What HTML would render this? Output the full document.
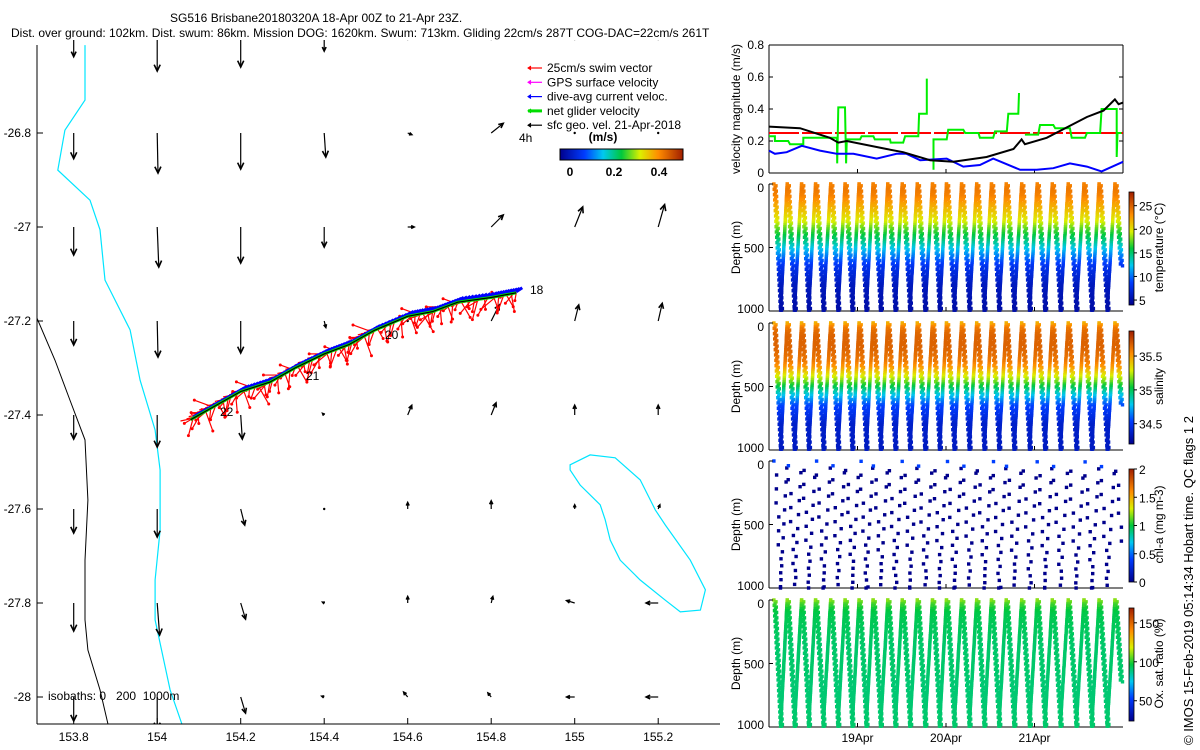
<!DOCTYPE html>
<html><head><meta charset="utf-8">
<style>
html,body{margin:0;padding:0;background:#fff;}
svg{display:block;font-family:"Liberation Sans",sans-serif;}
text{font-size:12px;fill:#000;}
</style></head>
<body>
<svg id="fig" width="1200" height="750" viewBox="0 0 1200 750" xmlns="http://www.w3.org/2000/svg">
<defs>
<clipPath id="mapclip"><rect x="37" y="40" width="683" height="684"/></clipPath>
<linearGradient id="jetH" x1="0" x2="1" y1="0" y2="0">
<stop offset="0" stop-color="#00008c"/><stop offset="0.2" stop-color="#003cff"/><stop offset="0.35" stop-color="#00c8f0"/><stop offset="0.5" stop-color="#00c83c"/><stop offset="0.65" stop-color="#dcf000"/><stop offset="0.8" stop-color="#ff8c00"/><stop offset="1" stop-color="#a01e00"/>
</linearGradient>
<linearGradient id="jetV" x1="0" x2="0" y1="1" y2="0">
<stop offset="0" stop-color="#00008c"/><stop offset="0.2" stop-color="#003cff"/><stop offset="0.35" stop-color="#00c8f0"/><stop offset="0.5" stop-color="#00c83c"/><stop offset="0.65" stop-color="#dcf000"/><stop offset="0.8" stop-color="#ff8c00"/><stop offset="1" stop-color="#a01e00"/>
</linearGradient>
</defs>
<text x="170" y="22">SG516 Brisbane20180320A 18-Apr 00Z to 21-Apr 23Z.</text>
<text x="11" y="37">Dist. over ground: 102km. Dist. swum: 86km. Mission DOG: 1620km. Swum: 713km. Gliding 22cm/s 287T COG-DAC=22cm/s 261T</text>
<g id="map"></g>
<g id="right"></g>
<text transform="translate(1193,745) rotate(-90)" style="font-size:13px">© IMOS 15-Feb-2019 05:14:34 Hobart time. QC flags 1  2</text>
</svg>
<script>
// ---------- data ----------
const lonTicks=[153.8,154,154.2,154.4,154.6,154.8,155,155.2];
const latTicks=[-26.8,-27,-27.2,-27.4,-27.6,-27.8,-28];
const gridLats=[-26.6,-26.8,-27,-27.2,-27.4,-27.6,-27.8,-28];
const gridU=[[0,0,0,0,0,0,0,0],[0,0.01,0,0.02,0.05,0.15,0,0],[0,0.02,0,0,0.08,0.15,0.1,0.08],[0,0.01,0,0.02,0,0.1,0.05,0.05],[0,0,0.02,-0.02,0.05,0.06,0,0],[0,0,0.05,0,0,0,0,0.02],[0,0.03,0.06,-0.02,0,0.02,-0.1,-0.15],[0,0,0.06,-0.03,-0.05,-0.04,-0.1,-0.15]];
const gridV=[[-0.22,-0.4,-0.35,-0.15,0,0,0,0],[-0.32,-0.5,-0.45,-0.3,-0.02,0.12,0,0],[-0.35,-0.5,-0.45,-0.25,0,0.15,0.25,0.28],[-0.3,-0.45,-0.4,-0.08,0,0.2,0.2,0.22],[-0.3,-0.4,-0.3,0.02,0.12,0.15,0.12,0.12],[-0.3,-0.35,-0.2,0,0.08,0.1,0.05,0.05],[-0.35,-0.4,-0.2,0.01,0.08,0.08,0.03,0],[-0.3,-0.4,-0.2,0.01,0.06,0.05,0,0]];
const trackLon=[154.86,154.8,154.72,154.66,154.6,154.52,154.46,154.4,154.33,154.27,154.2,154.14,154.08];
const trackLat=[-27.14,-27.15,-27.16,-27.18,-27.19,-27.22,-27.25,-27.27,-27.3,-27.33,-27.35,-27.38,-27.41];
const isoCyanLon=[153.827,153.827,153.779,153.762,153.839,153.863,153.875,153.935,153.959,153.995,154.007,154.007,153.995,153.995,154.031,154.059];
const isoCyanLat=[-26.613,-26.730,-26.794,-26.879,-26.943,-27.006,-27.113,-27.219,-27.326,-27.432,-27.517,-27.645,-27.751,-27.836,-27.985,-28.057];
const iso0Lon=[153.712,153.755,153.791,153.827,153.834,153.827,153.827,153.834,153.863,153.882];
const iso0Lat=[-27.194,-27.283,-27.368,-27.453,-27.581,-27.709,-27.836,-27.900,-27.985,-28.057];
const islandLon=[154.989,155.037,155.097,155.157,155.193,155.217,155.277,155.313,155.301,155.253,155.217,155.157,155.109,155.085,155.073,155.061,155.013,154.989];
const islandLat=[-27.506,-27.485,-27.491,-27.538,-27.602,-27.634,-27.709,-27.772,-27.815,-27.819,-27.794,-27.751,-27.709,-27.666,-27.623,-27.591,-27.549,-27.517];

const blackH=[0,8.4,16.5,18.8,21.1,31.9,36.4,43.7,50.0,59.0,66.3,68.5,69.4,75.3,86.2,90.7,93.8,94.8,96];
const blackV=[0.29,0.28,0.22,0.19,0.20,0.15,0.13,0.08,0.07,0.10,0.15,0.21,0.18,0.22,0.35,0.39,0.46,0.43,0.44];
const blueH=[0,1.6,4.8,8.9,13.8,18.4,22.9,29.2,34.6,37.3,41.0,48.2,52.7,57.2,60.8,68.1,72.6,77.1,81.6,86.2,90.2,96];
const blueV=[0.14,0.12,0.13,0.17,0.14,0.12,0.12,0.09,0.12,0.12,0.08,0.09,0.04,0.05,0.09,0.02,0.02,0.03,0.06,0.04,0.01,0.07];
const greenH=[0,1.6,1.6,5.2,5.7,9.3,9.3,18.4,18.5,18.8,20.6,20.9,21.1,24.7,25.1,28.3,28.7,32.8,33.0,36.4,36.9,40.5,40.7,42.8,42.8,null,44.6,44.6,48.2,48.6,52.7,53.2,56.8,57.2,60.8,61.3,64.5,64.9,67.6,67.8,null,69.4,73.0,73.5,77.1,77.6,81.6,82.1,85.7,86.2,89.8,90.2,92.5,94.3,94.3,94.5,95.6];
const greenV=[0.23,0.23,0.20,0.20,0.18,0.18,0.22,0.22,0.06,0.41,0.41,0.06,0.21,0.21,0.23,0.23,0.21,0.21,0.19,0.19,0.23,0.23,0.37,0.37,0.59,null,0.02,0.21,0.21,0.27,0.27,0.25,0.25,0.22,0.22,0.26,0.26,0.37,0.37,0.50,null,0.24,0.24,0.30,0.30,0.28,0.28,0.22,0.22,0.25,0.25,0.40,0.40,0.40,0.10,0.25,0.25];

const surfaceH=[1.6,5.2,9.1,12.9,17.0,20.9,24.7,28.5,32.5,36.4,40.5,44.6,48.4,52.5,56.6,60.6,64.6,68.8,73.0,77.1,81.4,85.7,89.8,94.1,97.6];
const maxDepth=[1000,1000,1000,1000,1000,1000,1000,1000,1000,1000,1000,1000,1000,1000,1000,1000,1000,1000,1000,1000,1000,1000,1000,650];
const profDepth=[0,50,100,200,300,350,450,550,650,800,1000];
const profTemp=[23.5,24,23.5,21.5,19.5,17.5,14.5,11,8,6,5];
const profSal=[35.45,35.62,35.66,35.66,35.6,35.5,35.2,34.85,34.55,34.38,34.35];
const profOxy=[110,100,95,93,92,91,91,91,90,90,91];
const dayTicks=[24,48,72];
const dayLabels=['19Apr','20Apr','21Apr'];

// ---------- helpers ----------
const NS='http://www.w3.org/2000/svg';
function el(tag,attrs,parent){const e=document.createElementNS(NS,tag);for(const k in attrs)e.setAttribute(k,attrs[k]);parent.appendChild(e);return e;}
const cmPos=[0,0.2,0.35,0.5,0.65,0.8,1];
const cmCol=[[0,0,140],[0,60,255],[0,200,240],[0,200,60],[220,240,0],[255,140,0],[160,30,0]];
function jet(t){t=Math.max(0,Math.min(1,t));let i=1;while(i<cmPos.length-1&&t>cmPos[i])i++;const f=(t-cmPos[i-1])/(cmPos[i]-cmPos[i-1]);const a=cmCol[i-1],b=cmCol[i];return `rgb(${Math.round(a[0]+f*(b[0]-a[0]))},${Math.round(a[1]+f*(b[1]-a[1]))},${Math.round(a[2]+f*(b[2]-a[2]))})`;}
function interp(xs,ys,x){if(x<=xs[0])return ys[0];for(let i=1;i<xs.length;i++){if(x<=xs[i]){const f=(x-xs[i-1])/(xs[i]-xs[i-1]);return ys[i-1]+f*(ys[i]-ys[i-1]);}}return ys[ys.length-1];}
const X=lon=>73.7+(lon-153.8)*417.5;
const Y=lat=>697-(lat+28)*470;

// ---------- map ----------
const map=document.getElementById('map');
const mg=el('g',{'clip-path':'url(#mapclip)'},map);
function poly(lons,lats,stroke,w,close,parent,name){
  let d=lons.map((l,i)=>(i?'L':'M')+X(l).toFixed(1)+','+Y(lats[i]).toFixed(1)).join('')+(close?'Z':'');
  const p=el('path',{d:d,fill:'none',stroke:stroke,'stroke-width':w},parent);
  
  
}
poly(isoCyanLon,isoCyanLat,'#00e5ff',1.2,false,mg,'isobath-200m');
poly(iso0Lon,iso0Lat,'#000',1,false,mg,'isobath-0m');
poly(islandLon,islandLat,'#00e5ff',1.2,true,mg,'isobath-island');
const SC=80;
for(let r=0;r<gridLats.length;r++)for(let c=0;c<lonTicks.length;c++){
  const u=gridU[r][c],v=gridV[r][c];
  const x0=X(lonTicks[c]),y0=Y(gridLats[r]);
  const x1=x0+u*SC,y1=y0-v*SC;
  const g=el('g',{},mg);
  
  
  el('line',{x1:x0,y1:y0,x2:x1,y2:y1,stroke:'#000','stroke-width':1.2},g);
  const L=Math.hypot(x1-x0,y1-y0);
  if(L>1){const a=Math.atan2(y1-y0,x1-x0),h=Math.min(7,2+L*0.2);
    const p1=[x1-h*Math.cos(a-0.45),y1-h*Math.sin(a-0.45)],p2=[x1-h*Math.cos(a+0.45),y1-h*Math.sin(a+0.45)];
    el('path',{d:`M${p1}L${x1},${y1}L${p2}`,fill:'none',stroke:'#000','stroke-width':1.6},g);}
  else el('circle',{cx:x1,cy:y1,r:1.2,fill:'#000'},g);
}
const tg=el('g',{},mg);


const angs=[100,130,80,160,60,110,200,95,140,70,180,120,85,150,105];
for(let i=0;i<trackLon.length-1;i++){
  for(let k=0;k<10;k++){
    const f=k/10,lon=trackLon[i]+f*(trackLon[i+1]-trackLon[i]),lat=trackLat[i]+f*(trackLat[i+1]-trackLat[i]);
    const x=X(lon),y=Y(lat);
    el('line',{x1:x,y1:y-1,x2:x+6,y2:y-5,stroke:'#0000ff','stroke-width':3},tg);
    const a=angs[(i*10+k)%angs.length]*Math.PI/180,L=8+((i*7+k*5)%14);
    const ex=x+L*Math.cos(a),ey=y+L*Math.sin(a);
    el('line',{x1:x,y1:y,x2:ex,y2:ey,stroke:'#ff0000','stroke-width':1.2},tg);
    el('circle',{cx:ex,cy:ey,r:1.5,fill:'#ff0000'},tg);
    el('line',{x1:x,y1:y,x2:x-L*0.7,y2:y+L*0.15,stroke:'#ff0000','stroke-width':1.2},tg);
  }
}
poly(trackLon,trackLat,'#00dd00',3,false,tg,'net-velocity-track');
poly(trackLon,trackLat,'#000',1.2,false,tg,'gps-track-line');
[['18',530,294],['22',220,416],['20',385,339],['21',306,380]].forEach(t=>{const e=el('text',{x:t[1],y:t[2]},map);e.textContent=t[0];});
el('line',{x1:37,y1:45,x2:37,y2:724,stroke:'#000'},map);
el('line',{x1:37,y1:724,x2:720,y2:724,stroke:'#000'},map);
lonTicks.forEach(l=>{const x=X(l);el('line',{x1:x,y1:724,x2:x,y2:718,stroke:'#000'},map);const t=el('text',{x:x,y:741,'text-anchor':'middle'},map);t.textContent=String(l);});
latTicks.forEach(l=>{const y=Y(l);el('line',{x1:37,y1:y,x2:43,y2:y,stroke:'#000'},map);const t=el('text',{x:31,y:y+4,'text-anchor':'end'},map);t.textContent=String(l);});
const iso=el('text',{x:48,y:700},map);iso.textContent='isobaths: 0   200  1000m';iso.style.whiteSpace='pre';
const leg=el('g',{},map);
[['25cm/s swim vector','#ff0000'],['GPS surface velocity','#ff00ff'],['dive-avg current veloc.','#0000ff'],['net glider velocity','#00dd00'],['sfc geo. vel. 21-Apr-2018','#000']].forEach((it,i)=>{
  const y=68+i*14.3;
  const g=el('g',{},leg);
  el('line',{x1:528,y1:y,x2:542,y2:y,stroke:it[1],'stroke-width':i==3?3:1.2},g);
  el('path',{d:`M531,${y-2}L528,${y}L531,${y+2}`,fill:it[1],stroke:it[1]},g);
  const t=el('text',{x:547,y:y+4},g);t.textContent=it[0];
});
const t4=el('text',{x:519,y:142},map);t4.textContent='4h';
const ms=el('text',{x:603,y:141,'font-weight':'bold','text-anchor':'middle'},map);ms.textContent='(m/s)';
const cb=el('rect',{x:560,y:149,width:123,height:11,fill:'url(#jetH)',stroke:'#000'},map);
[['0',570],['0.2',614],['0.4',659]].forEach(t=>{const e=el('text',{x:t[1],y:176,'text-anchor':'middle','font-weight':'bold'},map);e.textContent=t[0];});

// ---------- right panels ----------
const R=document.getElementById('right');
const PX0=769,PX1=1123;
const T=h=>PX0+h*(PX1-PX0)/96;
function frame(top,bot,name){
  const g=el('g',{},R);
  el('line',{x1:PX0,y1:top,x2:PX0,y2:bot,stroke:'#000'},g);
  el('line',{x1:PX0,y1:bot,x2:PX1,y2:bot,stroke:'#000'},g);
  dayTicks.forEach(h=>el('line',{x1:T(h),y1:bot,x2:T(h),y2:bot-4,stroke:'#000'},g));
  return g;
}
const vTop=45,vBot=173;const VY=v=>vBot-v*(vBot-vTop)/0.8;
const vg=frame(vTop,vBot,'velocity-panel');
el('line',{x1:PX1,y1:vTop,x2:PX1,y2:vBot,stroke:'#000'},vg);
el('line',{x1:PX0,y1:vTop,x2:PX1,y2:vTop,stroke:'#000'},vg);
[0,0.2,0.4,0.6,0.8].forEach(v=>{el('line',{x1:PX0,y1:VY(v),x2:PX0+4,y2:VY(v),stroke:'#000'},vg);el('line',{x1:PX1,y1:VY(v),x2:PX1-4,y2:VY(v),stroke:'#000'},vg);const t=el('text',{x:764,y:VY(v)+4,'text-anchor':'end','font-size':13},vg);t.textContent=String(v);});
const vl=el('text',{transform:'translate(740,109) rotate(-90)','text-anchor':'middle'},vg);vl.textContent='velocity magnitude (m/s)';
const ref=el('line',{x1:PX0,y1:VY(0.25),x2:PX1,y2:VY(0.25),stroke:'#ff0000','stroke-width':2,'stroke-dasharray':'30 3'},vg);

function series(hs,vs,col,name){let d='',pen=false;hs.forEach((h,i)=>{if(h===null){pen=false;return;}d+=(pen?'L':'M')+T(h).toFixed(1)+','+VY(vs[i]).toFixed(1);pen=true;});const p=el('path',{d:d,fill:'none',stroke:col,'stroke-width':2},vg);}
series(greenH,greenV,'#00ee00','net-velocity-series');
series(blueH,blueV,'#0000ff','dive-avg-current-series');
series(blackH,blackV,'#000','surface-geo-velocity-series');

function depthPanel(top,bot,name,prof,vmin,vmax,ticks,label,step,showDates){
  const g=frame(top,bot,name);
  const DY=d=>top+d*(bot-top)/1000;
  let s='';
  for(let i=0;i<surfaceH.length-1;i++){
    const t0=surfaceH[i],t2=surfaceH[i+1],tb=(t0+t2)/2,md=maxDepth[i];
    const tEnd= md<1000 ? t0+1.5 : tb;
    const off=prof===null?((i*37)%step):0;
    for(let d=off;d<=md;d+=step){
      const v=prof===null?null:interp(profDepth,prof,d);
      const col=prof===null?(d<60?'#0040ff':'#00008c'):jet((v-vmin)/(vmax-vmin));
      const x1=T(t0+(tEnd-t0)*d/md)+((d*7)%3)-1;
      s+=`<rect x="${(x1-1.7).toFixed(1)}" y="${(DY(d)-1.7).toFixed(1)}" width="3.4" height="3.4" fill="${col}"/>`;
      if(md>=1000){const d2=prof===null?Math.min(1000,d+step/2):d;
      const col2=prof===null?'#00008c':col;
      const x2=T(t2-(t2-tb)*d2/md)+((d*3)%3)-1;
      s+=`<rect x="${(x2-1.7).toFixed(1)}" y="${(DY(d2)-1.7).toFixed(1)}" width="3.4" height="3.4" fill="${col2}"/>`;}
    }
  }
  const sg=el('g',{},g);sg.innerHTML=s;
  [0,500,1000].forEach(d=>{el('line',{x1:PX0,y1:DY(d),x2:PX0+4,y2:DY(d),stroke:'#000'},g);const t=el('text',{x:764,y:DY(d)+(d==0?8:d==1000?2:5),'text-anchor':'end','font-size':13},g);t.textContent=String(d);});
  const yl=el('text',{transform:`translate(740,${(top+bot)/2}) rotate(-90)`,'text-anchor':'middle'},g);yl.textContent='Depth (m)';
  const ct=top+8,cbm=bot-6;
  const c=el('rect',{x:1129,y:ct,width:5,height:cbm-ct,fill:'url(#jetV)',stroke:'#000','stroke-width':0.8},g);
  
  ticks.forEach(v=>{const y=cbm-(v-vmin)/(vmax-vmin)*(cbm-ct);el('line',{x1:1134,y1:y,x2:1137,y2:y,stroke:'#000'},g);const t=el('text',{x:1139,y:y+5,'font-size':13},g);t.textContent=String(v);});
  const cl=el('text',{transform:`translate(1163,${(top+bot)/2}) rotate(-90)`,'text-anchor':'middle'},g);cl.textContent=label;
  if(showDates)dayTicks.forEach((h,i)=>{const t=el('text',{x:T(h),y:bot+15,'text-anchor':'middle','font-size':13},g);t.textContent=dayLabels[i];});
}
depthPanel(184,311,'temperature-panel',profTemp,3.95,27.9,[5,10,15,20,25],'temperature (°C)',14,false);
depthPanel(323,450,'salinity-panel',profSal,34.2,35.87,[34.5,35,35.5],'salinity',14,false);
depthPanel(461,588,'chlorophyll-panel',null,0,2,[0,0.5,1,1.5,2],'chl-a (mg m-3)',110,false);
depthPanel(600,727,'oxygen-panel',profOxy,24,169,[50,100,150],'Ox. sat. ratio (%)',14,true);
</script>
</body></html>
